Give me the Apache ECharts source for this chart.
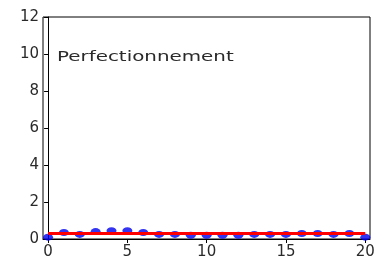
<!DOCTYPE html>
<html><head><meta charset="utf-8">
<script src="https://cdn.jsdelivr.net/npm/echarts@6/dist/echarts.min.js"></script>
<style>html,body{margin:0;padding:0;background:#fff}#c{width:378px;height:262px}</style>
</head><body><div id="c"></div>
<script>
const xValues = [0,1,2,3,4,5,6,7,8,9,10,11,12,13,14,15,16,17,18,19,20];
const yValues = [0.1,0.35,0.25,0.4,0.45,0.45,0.35,0.25,0.25,0.2,0.2,0.2,0.2,0.25,0.25,0.25,0.3,0.3,0.25,0.3,0.1];
const meanLineX = [0,20];
const meanLineY = [0.3,0.3];
const xTicks = [0,5,10,15,20];
const yTicks = [0,2,4,6,8,10,12];
const label = "Perfectionnement";

const chart = echarts.init(document.getElementById('c'));
const font = {fontFamily:'DejaVu Sans', fontSize:15, color:'#2a2a2a'};
chart.setOption({
  animation:false,
  grid:{left:43,right:8,top:17,bottom:23,show:true,borderColor:'#000',borderWidth:1,containLabel:false},
  xAxis:{type:'value',min:-0.32,max:20.3,
    axisLine:{show:true,onZero:false,lineStyle:{color:'#000',width:1}},
    axisTick:{show:true,length:4,customValues:xTicks,lineStyle:{color:'#000'}},
    axisLabel:Object.assign({customValues:xTicks,margin:6},font),
    splitLine:{show:false}},
  yAxis:{type:'value',min:yTicks[0],max:yTicks[yTicks.length-1],interval:2,
    axisLine:{show:true,lineStyle:{color:'#000',width:1}},
    axisTick:{show:true,length:4,lineStyle:{color:'#000'}},
    axisLabel:Object.assign({margin:4},font),
    splitLine:{show:false}},
  graphic:[{type:'text',left:57,top:50,scaleX:1.42,
    style:{text:label,font:'14px "DejaVu Sans"',fill:'#2a2a2a'}}],
  series:[
    {type:'scatter',data:xValues.map((x,i)=>[x,yValues[i]]),symbolSize:[10,7],
      itemStyle:{color:'#0000ee'},z:2},
    {type:'line',data:meanLineX.map((x,i)=>[x,meanLineY[i]]),showSymbol:false,
      lineStyle:{color:'#ff0000',width:3},z:3}
  ]
});
</script></body></html>
